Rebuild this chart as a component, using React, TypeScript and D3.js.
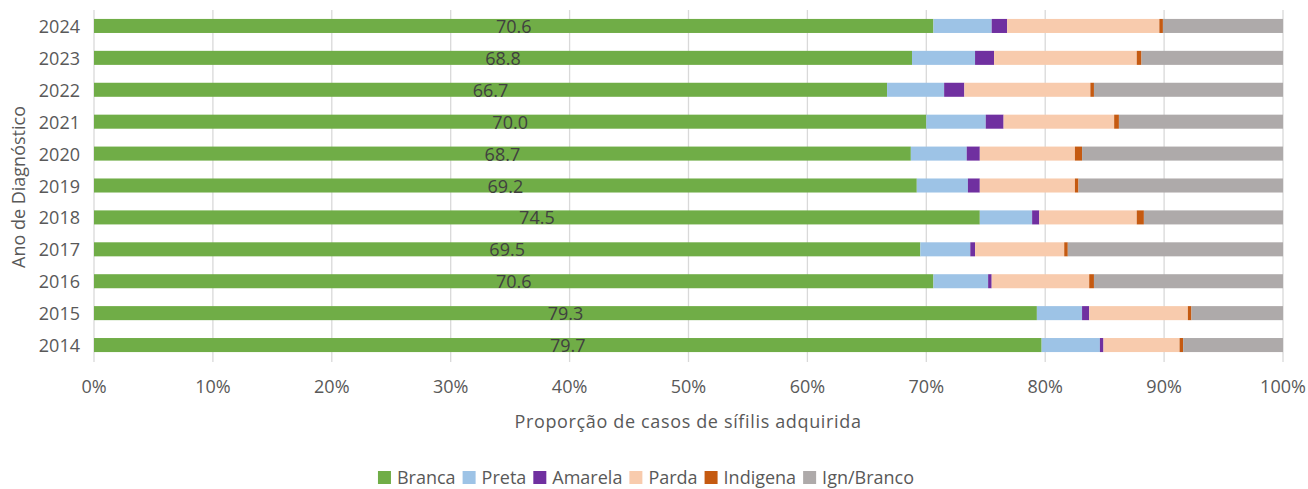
import React from "react";
import * as d3 from "d3";

const years = ["2024","2023","2022","2021","2020","2019","2018","2017","2016","2015","2014"];
const seriesNames = ["Branca","Preta","Amarela","Parda","Indigena","Ign/Branco"];
const branca = [70.6,68.8,66.7,70.0,68.7,69.2,74.5,69.5,70.6,79.3,79.7];
const preta = [4.9,5.3,4.8,5.0,4.7,4.3,4.4,4.2,4.6,3.8,4.9];
const amarela = [1.3,1.6,1.7,1.5,1.1,1.0,0.6,0.4,0.3,0.6,0.3];
const parda = [12.8,12.0,10.6,9.3,8.0,8.0,8.2,7.5,8.2,8.3,6.4];
const indigena = [0.3,0.4,0.3,0.4,0.6,0.3,0.6,0.3,0.4,0.3,0.3];
const ignBranco = [10.1,11.9,15.9,13.8,16.9,17.2,11.7,18.1,15.9,7.7,8.4];
const xTicks = [0,10,20,30,40,50,60,70,80,90,100];
const colors = ["#70ad47","#9dc3e6","#7030a0","#f8cbad","#c55a11","#aeaaaa"];

const W = 1308, H = 489;
const FONT = "'Open Sans', sans-serif";

function measure(text: string, size: number) {
  const c = document.createElement("canvas").getContext("2d")!;
  c.font = `${size}px ${FONT}`;
  return c.measureText(text).width;
}

export default function App() {
  const seriesVals = [branca, preta, amarela, parda, indigena, ignBranco];
  const rows = years.map((y, i) => {
    const vals = seriesVals.map(s => s[i]);
    const total = d3.sum(vals);
    const r: any = { year: y };
    seriesNames.forEach((n, k) => (r[n] = (vals[k] / total) * 100));
    return r;
  });
  const stacked = d3.stack().keys(seriesNames)(rows);
  const x = d3.scaleLinear().domain([0, 100]).range([94, 1283]);
  const y = d3.scaleBand().domain(years).range([10, 361]).paddingInner(0.56).paddingOuter(0.28);

  const fs = 18;
  const sq = 13;
  const items = seriesNames.map(n => ({ n, w: measure(n, fs) }));
  const itemW = items.map(it => sq + 6 + it.w + 7);
  const totalW = d3.sum(itemW) - 7;
  let cx = 646 - totalW / 2;
  const legendPos = items.map((it, i) => {
    const p = cx;
    cx += itemW[i];
    return p;
  });

  return (
    <svg width={W} height={H} style={{ position: "absolute", left: 0, top: 0, background: "#fff" }} fontFamily={FONT}>
      {xTicks.map(t => (
        <line key={t} x1={x(t)} x2={x(t)} y1={10} y2={362} stroke="#d9d9d9" strokeWidth={1.3} />
      ))}
      {stacked.map((s, k) => (
        <g key={s.key} fill={colors[k]}>
          {s.map((d, i) => (
            <rect key={i} x={x(d[0])} width={Math.max(0, x(d[1]) - x(d[0]))} y={y(years[i])!} height={y.bandwidth()} />
          ))}
        </g>
      ))}
      {branca.map((v, i) => (
        <text key={i} x={(x(0) + x(v)) / 2} y={y(years[i])! + y.bandwidth() / 2 + 7} textAnchor="middle" fontSize={fs} fill="#404040">
          {v.toFixed(1)}
        </text>
      ))}
      {years.map(yr => (
        <text key={yr} x={80} y={y(yr)! + y.bandwidth() / 2 + 7} textAnchor="end" fontSize={fs} fill="#595959">{yr}</text>
      ))}
      {xTicks.map(t => (
        <text key={t} x={x(t)} y={393} textAnchor="middle" fontSize={fs} fill="#595959">{t}%</text>
      ))}
      <text x={688} y={428} textAnchor="middle" fontSize={fs} letterSpacing={0.65} fill="#595959">Proporção de casos de sífilis adquirida</text>
      <text transform={`translate(25,187) rotate(-90)`} textAnchor="middle" fontSize={fs} fill="#595959">Ano de Diagnóstico</text>
      {items.map((it, i) => (
        <g key={it.n} transform={`translate(${legendPos[i]},0)`}>
          <rect x={0} y={471} width={sq} height={sq} fill={colors[i]} />
          <text x={sq + 6} y={484} fontSize={fs} fill="#595959">{it.n}</text>
        </g>
      ))}
    </svg>
  );
}
